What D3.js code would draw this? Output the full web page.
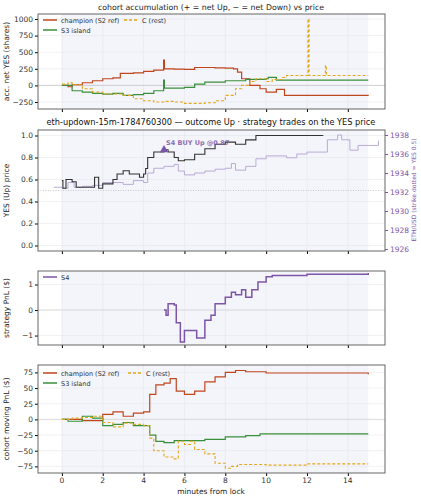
<!DOCTYPE html><html><head><meta charset="utf-8"><script src="https://cdn.jsdelivr.net/npm/d3@7"></script>
<style>body{margin:0;background:#fff}text{font-family:"DejaVu Sans",sans-serif}</style></head><body><svg id="c" width="421" height="500"></svg>
<script>
const accChampion=[[0,0],[0.3,-20],[0.5,10],[1,40],[1.5,70],[2,100],[2.5,115],[2.86,180],[3.5,190],[4,210],[4.5,230],[4.98,380],[5.02,250],[5.5,245],[6,240],[6.5,270],[7,270],[7.5,265],[8,260],[8.4,250],[8.6,200],[8.8,100],[9.2,0],[9.7,-50],[10,-100],[10.5,-60],[10.9,-150],[15,-155]];
const accS3=[[0,0],[0.5,-80],[1,-100],[1.5,-120],[2,-130],[2.5,-120],[3,-150],[3.5,-140],[4,-120],[4.5,-80],[4.98,80],[5.02,-40],[6,-30],[6.5,20],[7,50],[8,70],[9,90],[10,100],[10.1,120],[10.5,80],[15,80]];
const accC=[[0,20],[0.3,40],[0.5,10],[1,-50],[1.5,-100],[2,-130],[3,-150],[3.5,-200],[4,-230],[4.5,-250],[5,-240],[5.5,-250],[6,-270],[7,-260],[7.5,-230],[8,-150],[8.5,-50],[8.8,0],[9.2,60],[9.5,100],[10,60],[10.3,90],[10.8,120],[11,150],[12.05,1000],[12.1,150],[12.9,300],[12.95,150],[15,150]];
const yesPrice=[[0,0.59],[0.05,0.52],[0.2,0.6],[0.5,0.58],[0.7,0.53],[1.3,0.53],[1.6,0.62],[1.8,0.52],[2,0.56],[2.5,0.6],[2.7,0.65],[3,0.68],[3.3,0.65],[3.8,0.62],[4,0.65],[4.1,0.7],[4.2,0.8],[4.5,0.85],[5,0.87],[5.2,0.85],[5.5,0.8],[5.7,0.77],[6,0.78],[6.5,0.83],[7,0.88],[7.5,0.92],[8,0.94],[8.5,0.92],[9,0.96],[9.5,1.0],[12.8,1.0]];
const ethPrice=[[-0.4,1932.5],[0,1932.4],[0.3,1933],[0.6,1932.5],[1,1932.6],[1.5,1932.7],[2,1933],[3,1932.8],[3.5,1933.2],[4,1933],[4.2,1934],[4.5,1934.5],[5,1934.7],[5.5,1934.9],[5.7,1934.2],[6,1933.8],[6.5,1934],[7,1934.2],[7.5,1934.4],[8,1934.5],[8.3,1935],[8.5,1934.3],[9,1934.7],[9.5,1935.5],[10,1935.8],[11,1935.6],[11.5,1936],[12,1936.2],[13,1937.5],[13.5,1938],[13.7,1937.5],[14.1,1936.4],[14.5,1936.9],[15,1936.9],[15.5,1937.4]];
const s4Pnl=[[5,0],[5.1,-0.2],[5.2,0.25],[5.5,0.2],[5.6,-0.5],[5.8,-1.25],[6,-0.8],[6.3,-0.8],[6.6,-1.1],[7,-0.4],[7.3,-0.2],[7.5,0.25],[8,0.5],[8.3,0.7],[8.5,0.6],[8.8,0.8],[9,0.5],[9.3,0.8],[9.6,1.1],[10,1.3],[10.3,1.35],[12,1.4],[15,1.45]];
const pnlChampion=[[0,0],[1,-2],[2,8],[2.5,12],[3,5],[3.5,10],[4,12],[4.3,40],[4.6,55],[5,58],[5.3,65],[5.6,45],[6,40],[6.5,45],[7,60],[7.5,68],[8,75],[8.5,78],[9,76],[10,74],[15,72]];
const pnlS3=[[0,0],[0.3,-3],[1,5],[1.5,2],[2,-10],[2.5,-8],[3,-5],[3.5,-10],[4,-10],[4.3,-25],[4.6,-35],[5,-37],[5.5,-34],[7,-32],[8,-28],[9,-26],[9.7,-23],[15,-23]];
const pnlC=[[0,0],[0.5,2],[1,3],[1.5,5],[2,-5],[2.5,-12],[3,-6],[3.5,-8],[4,-10],[4.3,-30],[4.5,-50],[5,-60],[5.5,-63],[5.7,-35],[6,-40],[6.3,-35],[6.5,-48],[7,-55],[7.5,-70],[8,-78],[8.3,-75],[8.6,-72],[10,-73],[12,-71],[15,-71]];
const xTicks=[0,2,4,6,8,10,12,14];
const ethTicks=[1926,1928,1930,1932,1934,1936,1938];
const RED="#c0461e",GRN="#3a8f3a",GLD="#e3a81b",PUR="#7d55a8";
const svg=d3.select("#c");
const L=38,R=385;
const x=d3.scaleLinear().domain([-1.17,15.82]).range([L,R]);
function panel(top,bot,dom,ticks,fmt,label){
  const y=d3.scaleLinear().domain(dom).range([bot,top]);
  const g=svg.append("g");
  g.append("rect").attr("x",L).attr("y",top).attr("width",R-L).attr("height",bot-top).attr("fill","#fff");
  g.append("rect").attr("x",x(0)).attr("y",top).attr("width",x(15)-x(0)).attr("height",bot-top).attr("fill","#f4f5fb");
  xTicks.forEach(t=>g.append("line").attr("x1",x(t)).attr("x2",x(t)).attr("y1",top).attr("y2",bot).attr("stroke","#e3e3e8").attr("stroke-width",0.5));
  ticks.forEach(t=>g.append("line").attr("x1",L).attr("x2",R).attr("y1",y(t)).attr("y2",y(t)).attr("stroke","#e3e3e8").attr("stroke-width",0.5));
  const ax=g.append("g").attr("transform",`translate(${L},0)`).call(d3.axisLeft(y).tickValues(ticks).tickFormat(fmt).tickSize(3).tickPadding(2));
  ax.select(".domain").remove();ax.selectAll("text").attr("font-size",7.5).attr("fill","#333").text(function(){return this.textContent.replace("-","−")});
  const bx=g.append("g").attr("transform",`translate(0,${bot})`).call(d3.axisBottom(x).tickValues(xTicks).tickSize(3).tickFormat(""));
  bx.select(".domain").remove();
  g.append("text").attr("transform",`translate(9,${(top+bot)/2}) rotate(-90)`).attr("text-anchor","middle").attr("font-size",7.5).attr("fill","#222").text(label);
  return {g,y,top,bot};
}
function frame(p){p.g.append("rect").attr("x",L).attr("y",p.top).attr("width",R-L).attr("height",p.bot-p.top).attr("fill","none").attr("stroke","#666").attr("stroke-width",1);}
function step(p,data,col,w,dash,yy){
  const ys=yy||p.y;
  p.g.append("path").datum(data).attr("d",d3.line().x(d=>x(d[0])).y(d=>ys(d[1])).curve(d3.curveStepAfter)).attr("fill","none").attr("stroke",col).attr("stroke-width",w).attr("stroke-dasharray",dash||null);
}
function legend(p,items,x0,y0){
  items.forEach((it,i)=>{const lx=x0+it[3],ly=y0+it[4];
    p.g.append("line").attr("x1",lx).attr("x2",lx+14).attr("y1",ly).attr("y2",ly).attr("stroke",it[1]).attr("stroke-width",1.5).attr("stroke-dasharray",it[2]||null);
    p.g.append("text").attr("x",lx+18).attr("y",ly+2.5).attr("font-size",6.5).attr("fill","#333").text(it[0]);});
}
svg.append("text").attr("x",211).attr("y",10).attr("text-anchor","middle").attr("font-size",7.8).attr("fill","#222").text("cohort accumulation (+ = net Up, − = net Down) vs price");
const p1=panel(14,109,[-355,1075],[-250,0,250,500,750,1000],d3.format("d"),"acc. net YES (shares)");
p1.g.append("line").attr("x1",L).attr("x2",R).attr("y1",p1.y(0)).attr("y2",p1.y(0)).attr("stroke","#bbb").attr("stroke-width",0.6);
step(p1,accChampion,RED,1.2);step(p1,accS3,GRN,1.2);step(p1,accC,GLD,1.1,"3,2");
legend(p1,[["champion (S2 ref)",RED,null,0,0],["C (rest)",GLD,"3,2",81,0],["S3 island",GRN,null,0,10]],43,20);
frame(p1);
svg.append("text").attr("x",211).attr("y",125).attr("text-anchor","middle").attr("font-size",8.2).attr("fill","#111").text("eth-updown-15m-1784760300 — outcome Up · strategy trades on the YES price");
const p2=panel(130,251,[-0.05,1.05],[0,0.2,0.4,0.6,0.8,1.0],d3.format(".1f"),"YES (Up) price");
const yR=d3.scaleLinear().domain([1926,1938]).range([249,135]);
const ar=p2.g.append("g").attr("transform",`translate(${R},0)`).call(d3.axisRight(yR).tickValues(ethTicks).tickFormat(d3.format("d")).tickSize(3).tickPadding(2));
ar.select(".domain").remove();ar.selectAll("text").attr("font-size",7.5).attr("fill",PUR);ar.selectAll("line").attr("stroke",PUR);
p2.g.append("text").attr("transform",`translate(416,190) rotate(-90)`).attr("text-anchor","middle").attr("font-size",6).attr("fill",PUR).text("ETH/USD (strike dotted = YES 0.5)");
p2.g.append("line").attr("x1",L).attr("x2",R).attr("y1",p2.y(0.5)).attr("y2",p2.y(0.5)).attr("stroke","#aaa").attr("stroke-width",0.6).attr("stroke-dasharray","1,1.5");
step(p2,ethPrice,"#b3a3d3",0.9,null,yR);
step(p2,yesPrice,"#333",1.1);
p2.g.append("path").attr("d",d3.symbol(d3.symbolTriangle,30)()).attr("transform",`translate(${x(5)},${p2.y(0.87)})`).attr("fill",PUR);
p2.g.append("text").attr("x",x(5)+2).attr("y",p2.y(0.87)-5).attr("font-size",6.5).attr("font-weight","bold").attr("fill",PUR).attr("opacity",0.85).text("S4 BUY Up @0.87");
frame(p2);
const p3=panel(271,345,[-1.37,1.53],[-1,0,1],d3.format("d"),"strategy PnL ($)");
p3.g.append("line").attr("x1",L).attr("x2",R).attr("y1",p3.y(0)).attr("y2",p3.y(0)).attr("stroke","#ccc").attr("stroke-width",0.6);
step(p3,s4Pnl,PUR,1.5);
legend(p3,[["S4",PUR,null,0,0]],43,277);
frame(p3);
const p4=panel(365,473,[-85.6,86.8],[-75,-50,-25,0,25,50,75],d3.format("d"),"cohort moving PnL ($)");
p4.g.append("line").attr("x1",L).attr("x2",R).attr("y1",p4.y(0)).attr("y2",p4.y(0)).attr("stroke","#ccc").attr("stroke-width",0.6);
step(p4,pnlChampion,RED,1.2);step(p4,pnlS3,GRN,1.2);step(p4,pnlC,GLD,1.1,"3,2");
legend(p4,[["champion (S2 ref)",RED,null,0,0],["C (rest)",GLD,"3,2",85,0],["S3 island",GRN,null,0,10]],43,373);
frame(p4);
xTicks.forEach(t=>svg.append("text").attr("x",x(t)).attr("y",483).attr("text-anchor","middle").attr("font-size",7.5).attr("fill","#333").text(t));
svg.append("text").attr("x",211).attr("y",494).attr("text-anchor","middle").attr("font-size",7.5).attr("fill","#222").text("minutes from lock");
</script></body></html>
